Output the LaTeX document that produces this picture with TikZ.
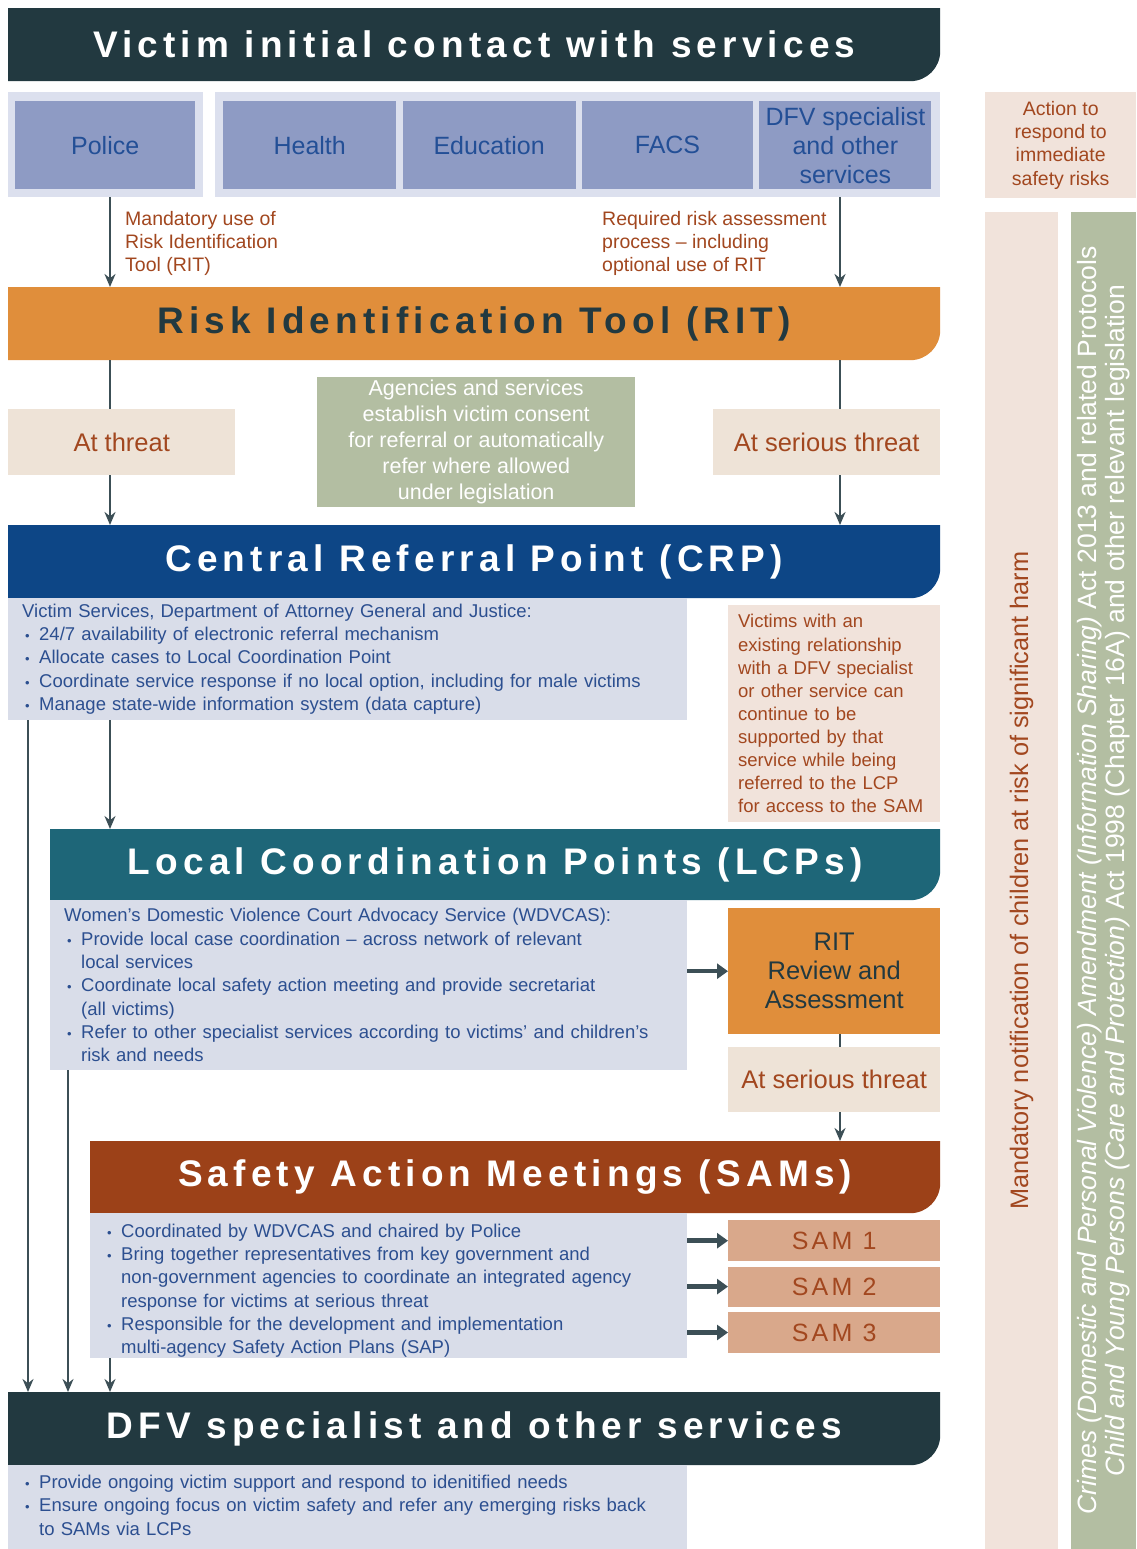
\documentclass[tikz,border=0pt]{standalone}
\usepackage{fontspec}
\setmainfont{Liberation Sans}
\newfontfamily\headfont{Liberation Sans}[LetterSpace=14]
\newfontfamily\samfont{Liberation Sans}[LetterSpace=13]
\usetikzlibrary{arrows.meta, positioning}
\hyphenpenalty=10000
\exhyphenpenalty=10000

\definecolor{darkteal}{HTML}{223940}
\definecolor{ritorange}{HTML}{E08E3B}
\definecolor{crpblue}{HTML}{0D4686}
\definecolor{lcpteal}{HTML}{1E6678}
\definecolor{sambrown}{HTML}{9C4118}
\definecolor{svcfill}{HTML}{8E9BC4}
\definecolor{svctext}{HTML}{234F96}
\definecolor{panelbg}{HTML}{DCE0EE}
\definecolor{detbg}{HTML}{D9DDE9}
\definecolor{dettext}{HTML}{2C4F90}
\definecolor{beige}{HTML}{EEE3D7}
\definecolor{pinkbg}{HTML}{F1E3DB}
\definecolor{samfill}{HTML}{D9A88B}
\definecolor{sage}{HTML}{B3BEA2}
\definecolor{browntext}{HTML}{A2471F}
\definecolor{arrowc}{HTML}{3C4F56}

\newcommand\bul{\par\hangindent=17pt\hangafter=1\noindent\makebox[17pt][l]{\hspace{3pt}{\fontsize{13}{13}\selectfont\textbullet}}}

\tikzset{
  >={Stealth[length=13pt,width=11pt]},
  band/.style={anchor=north west, inner sep=0pt, minimum height=73pt, fill=white,
    font=\headfont\bfseries\fontsize{37}{42}\selectfont,
    path picture={\fill[#1] (path picture bounding box.north west) -- (path picture bounding box.north east)
      -- ([yshift=30pt]path picture bounding box.south east) arc[start angle=0, end angle=-90, radius=30pt]
      -- (path picture bounding box.south west) -- cycle;}},
  panel/.style={anchor=north west, fill=panelbg, inner sep=0pt, minimum height=105pt},
  svc/.style={anchor=north west, fill=svcfill, text=svctext, inner sep=0pt, minimum height=88pt,
    align=center, font=\fontsize{25}{29}\selectfont},
  note/.style={anchor=north west, inner sep=0pt, text=browntext, align=left,
    font=\fontsize{19.5}{23}\selectfont},
  threat/.style={anchor=north west, fill=beige, text=browntext, inner sep=0pt, minimum width=227pt,
    minimum height=66pt, font=\fontsize{25.5}{29}\selectfont},
  detail/.style={anchor=north west, fill=detbg, text=dettext, inner xsep=14pt, inner ysep=0pt,
    align=left, font=\fontsize{18.5}{23.3}\selectfont},
  sambox/.style={anchor=north west, fill=samfill, text=browntext, inner sep=0pt, minimum width=212pt,
    minimum height=41pt, font=\samfont\fontsize{25}{28}\selectfont},
  flow/.style={draw=arrowc, line width=2.5pt, ->},
  link/.style={draw=arrowc, line width=2.5pt},
  side/.style={draw=arrowc, line width=4.5pt, -{Triangle[length=11pt,width=15pt]}}
}

\begin{document}
\begin{tikzpicture}[x=1pt, y=-1pt]
\useasboundingbox (0,0) rectangle (1136,1549);
\fill[white] (0,0) rectangle (1136,1549);

%columns for the connectors
\coordinate (colFar) at (28,0);
\coordinate (colMid) at (68,0);
\coordinate (colL) at (110,0);
\coordinate (colR) at (840,0);

%first contact
\node[band=darkteal, text=white, minimum width=932pt] (contact) at (8,8) {Victim initial contact with services};
\node[panel, minimum width=195pt] (pnlA) at (8,92) {};
\node[panel, minimum width=725pt] (pnlB) at (215,92) {};
\node[svc, minimum width=180pt] (police) at (15,101) {Police};
\node[svc, minimum width=173pt] (health) at (223,101) {Health};
\node[svc, minimum width=173pt, right=6pt of health] (edu) {Education};
\node[svc, minimum width=171pt, right=6pt of edu] (facs) {FACS};
\node[svc, minimum width=172pt, right=6pt of facs] (dfvsvc) {DFV specialist\\and other\\services};
\node[note] (mandnote) at (125,211) {Mandatory use of\\Risk Identification\\Tool (RIT)};
\node[note] (reqnote) at (602,211) {Required risk assessment\\process -- including\\optional use of RIT};

%risk identification
\node[band=ritorange, text=darkteal, minimum width=932pt] (rit) at (8,287) {Risk Identification Tool (RIT)};
\node[threat] (atthr) at (8,409) {At threat};
\node[threat] (atser) at (713,409) {At serious threat};
\node[anchor=north west, fill=sage, text=white, inner sep=0pt, minimum width=318pt, minimum height=130pt,
  align=center, font=\fontsize{21.5}{26}\selectfont] (consent) at (317,377)
  {Agencies and services\\establish victim consent\\for referral or automatically\\refer where allowed\\under legislation};

%central referral point
\node[band=crpblue, text=white, minimum width=932pt] (crp) at (8,525) {Central Referral Point (CRP)};
\node[detail, text width=651pt, minimum height=122pt] (crpd) at (8,598)
  {Victim Services, Department of Attorney General and Justice:
   \bul 24/7 availability of electronic referral mechanism
   \bul Allocate cases to Local Coordination Point
   \bul Coordinate service response if no local option, including for male victims
   \bul Manage state-wide information system (data capture)\par};
\node[anchor=north west, fill=pinkbg, text=browntext, inner xsep=10pt, inner ysep=0pt, text width=192pt,
  minimum height=217pt, align=left, font=\fontsize{18.5}{23.1}\selectfont] (existing) at (728,605)
  {Victims with an\\existing relationship\\with a DFV specialist\\or other service can\\continue to be\\supported by that\\service while being\\referred to the LCP\\for access to the SAM};

%local coordination points
\node[band=lcpteal, text=white, minimum width=890pt, minimum height=71pt] (lcp) at (50,829) {Local Coordination Points (LCPs)};
\node[detail, text width=609pt, minimum height=170pt] (lcpd) at (50,900)
  {Women’s Domestic Violence Court Advocacy Service (WDVCAS):
   \bul Provide local case coordination -- across network of relevant\newline local services
   \bul Coordinate local safety action meeting and provide secretariat\newline (all victims)
   \bul Refer to other specialist services according to victims’ and children’s\newline risk and needs\par};
\node[anchor=north west, fill=ritorange, text=darkteal, inner sep=0pt, minimum width=212pt, minimum height=126pt,
  align=center, font=\fontsize{25.5}{29}\selectfont] (ritrev) at (728,908) {RIT\\Review and\\Assessment};
\node[threat, minimum width=212pt, minimum height=65pt] (atser2) at (728,1047) {At serious threat};

%safety action meetings
\node[band=sambrown, text=white, minimum width=850pt, minimum height=72pt] (sam) at (90,1141) {Safety Action Meetings (SAMs)};
\node[detail, text width=569pt, minimum height=145pt] (samd) at (90,1213)
  {\bul Coordinated by WDVCAS and chaired by Police
   \bul Bring together representatives from key government and\newline non-government agencies to coordinate an integrated agency\newline response for victims at serious threat
   \bul Responsible for the development and implementation\newline multi-agency Safety Action Plans (SAP)\par};
\node[sambox] (sam1) at (728,1220) {SAM 1};
\node[sambox, minimum height=40pt, below=5pt of sam1] (sam2) {SAM 2};
\node[sambox, below=5pt of sam2] (sam3) {SAM 3};

%dfv services
\node[band=darkteal, text=white, minimum width=932pt] (dfv) at (8,1392) {DFV specialist and other services};
\node[detail, text width=651pt, minimum height=84pt] (dfvd) at (8,1465)
  {\bul Provide ongoing victim support and respond to idenitified needs
   \bul Ensure ongoing focus on victim safety and refer any emerging risks back\newline to SAMs via LCPs\par\vspace{14pt}};

%right columns
\node[anchor=north west, fill=pinkbg, text=browntext, inner sep=0pt, minimum width=151pt, minimum height=106pt,
  align=center, font=\fontsize{19.5}{23.2}\selectfont] (action) at (985,92)
  {Action to\\respond to\\immediate\\safety risks};
\node[rotate=90, fill=pinkbg, text=browntext, inner sep=0pt, minimum width=1337pt, minimum height=73pt,
  font=\fontsize{25.3}{29}\selectfont] (notify) at (1021.5,880.5)
  {Mandatory notification of children at risk of significant harm};
\node[rotate=90, fill=sage, text=white, inner sep=0pt, minimum width=1337pt, minimum height=65pt,
  align=center, font=\fontsize{26.5}{27.5}\selectfont] (laws) at (1103.5,880.5)
  {{\itshape Crimes (Domestic and Personal Violence) Amendment (Information Sharing)} Act 2013 and related Protocols\\
   {\itshape Child and Young Persons (Care and Protection)} Act 1998 (Chapter 16A) and other relevant legislation};

%connectors
\draw[flow] (pnlA.south -| colL) -- (rit.north -| colL);
\draw[flow] (pnlB.south -| colR) -- (rit.north -| colR);
\draw[link] (rit.south -| colL) -- (atthr.north -| colL);
\draw[flow] (atthr.south -| colL) -- (crp.north -| colL);
\draw[link] (rit.south -| colR) -- (atser.north -| colR);
\draw[flow] (atser.south -| colR) -- (crp.north -| colR);
\draw[flow] (crpd.south -| colL) -- (lcp.north -| colL);
\draw[flow] (crpd.south -| colFar) -- (dfv.north -| colFar);
\draw[flow] (lcpd.south -| colMid) -- (dfv.north -| colMid);
\draw[flow] (samd.south -| colL) -- (dfv.north -| colL);
\draw[side] (ritrev.west -| lcpd.east) -- (ritrev.west);
\draw[link] (ritrev.south -| colR) -- (atser2.north -| colR);
\draw[flow] (atser2.south -| colR) -- (sam.north -| colR);
\draw[side] (sam1.west -| samd.east) -- (sam1.west);
\draw[side] (sam2.west -| samd.east) -- (sam2.west);
\draw[side] (sam3.west -| samd.east) -- (sam3.west);
\end{tikzpicture}
\end{document}
